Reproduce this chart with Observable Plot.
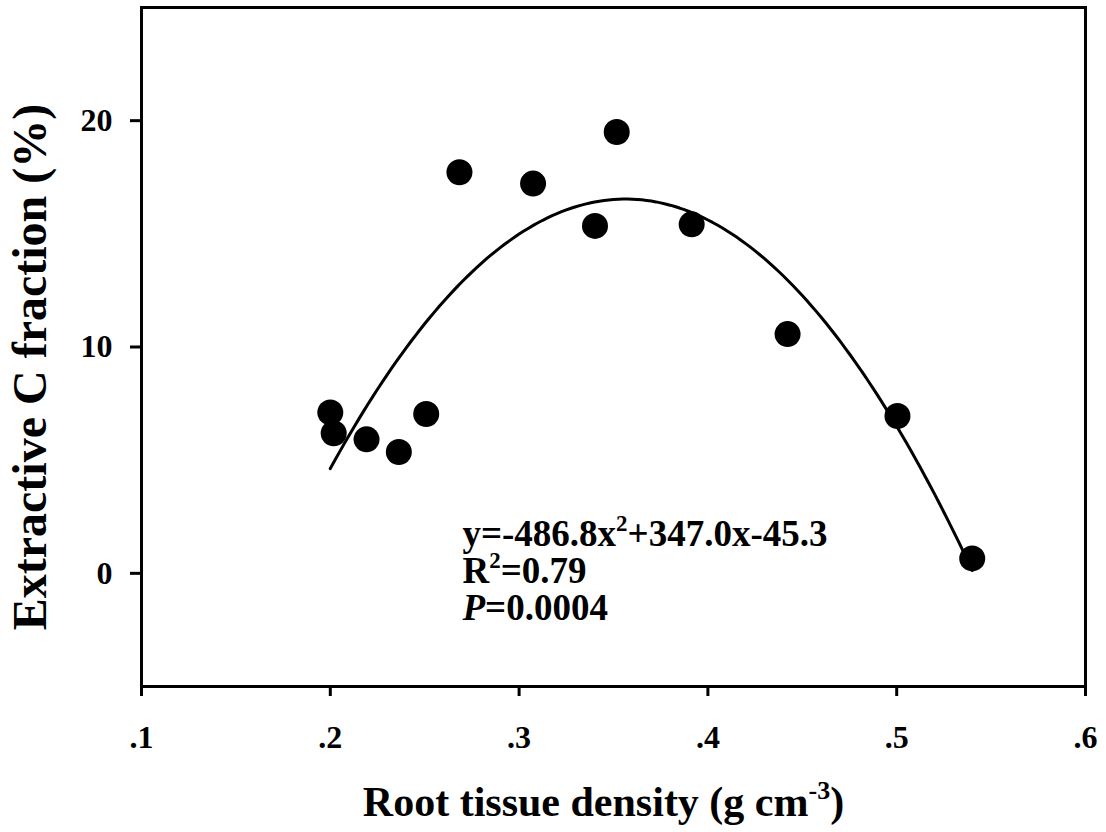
<!DOCTYPE html>
<html>
<head>
<meta charset="utf-8">
<script src="https://cdn.jsdelivr.net/npm/d3@7"></script>
<script src="https://cdn.jsdelivr.net/npm/@observablehq/plot@0.6"></script>
<style>
  html, body { margin: 0; padding: 0; background: #fff; }
</style>
</head>
<body>
<div id="chart"></div>
<script>
// ---- data ----
const rootTissueDensity = [0.2000, 0.2018, 0.2192, 0.2363, 0.2508, 0.2684, 0.3074, 0.3402, 0.3517, 0.3914, 0.4422, 0.5004, 0.5400];
const extractiveC      = [7.11, 6.19, 5.92, 5.36, 7.04, 17.72, 17.22, 15.35, 19.50, 15.42, 10.57, 6.95, 0.66];

// quadratic fit printed on the chart: y = a x^2 + b x + c
const fitCoefficients = [-486.8, 347.0, -45.3];
const fitRange = [0.2, 0.54];

const xTicks = [0.1, 0.2, 0.3, 0.4, 0.5, 0.6];
const xTickLabels = [".1", ".2", ".3", ".4", ".5", ".6"];
const yTicks = [0, 10, 20];
const yTickLabels = ["0", "10", "20"];

const annotationLines = ["y=-486.8x^2^+347.0x-45.3", "R^2^=0.79", "*P*=0.0004"];
const annotationX = 0.27;
const annotationY = [1.2, -0.43, -2.06];

const xTitle = "Root tissue density (g cm^-3^)";
const yTitle = "Extractive C fraction (%)";

// ---- build tables ----
const points = rootTissueDensity.map((x, i) => ({x, y: extractiveC[i]}));
const [a, b, c] = fitCoefficients;
const fitCurve = d3.range(fitRange[0], fitRange[1] + 1e-9, 0.0025).map(x => ({x, y: a * x * x + b * x + c}));
const annotations = annotationLines.map((t, i) => ({t, x: annotationX, y: annotationY[i]}));

const svg = Plot.plot({
  width: 1106,
  height: 832,
  marginLeft: 141,
  marginRight: 21,
  marginTop: 7,
  marginBottom: 146,
  style: {
    fontFamily: "'Liberation Serif', 'Times New Roman', serif",
    fontWeight: "bold",
    color: "black",
    background: "white"
  },
  x: {domain: [0.1, 0.6], label: null},
  y: {domain: [-5, 25], label: null},
  marks: [
    Plot.axisX({ticks: xTicks, tickFormat: (d, i) => xTickLabels[xTicks.indexOf(d)], tickSize: 10, tickPadding: 29, strokeWidth: 3, fontSize: 32, label: null}),
    Plot.axisY({ticks: yTicks, tickFormat: d => yTickLabels[yTicks.indexOf(d)], tickSize: 11, tickPadding: 18, strokeWidth: 3, fontSize: 32, label: null}),
    Plot.line(fitCurve, {x: "x", y: "y", stroke: "black", strokeWidth: 3}),
    Plot.dot(points, {x: "x", y: "y", r: 13, fill: "black", stroke: "none"}),
    Plot.text(annotations, {x: "x", y: "y", text: "t", textAnchor: "start", lineAnchor: "bottom", fontSize: 37, fill: "black"}),
    Plot.text([xTitle], {frameAnchor: "bottom", lineAnchor: "bottom", textAnchor: "middle", dx: -10, dy: 129, fontSize: 42, fill: "black"}),
    Plot.text([yTitle], {frameAnchor: "left", rotate: -90, lineAnchor: "bottom", textAnchor: "middle", dx: -96, dy: 20, fontSize: 48, fill: "black"}),
    Plot.frame({stroke: "black", strokeWidth: 3})
  ]
});

document.getElementById("chart").appendChild(svg);

// rich text: ^sup^ and *italic*
const NS = "http://www.w3.org/2000/svg";
d3.select(svg).selectAll("text").each(function () {
  const t = this.textContent;
  if (!/[\^*]/.test(t)) return;
  const fs = parseFloat(getComputedStyle(this).fontSize);
  const parts = t.split(/(\^[^^]*\^|\*[^*]*\*)/).filter(s => s.length);
  while (this.firstChild) this.removeChild(this.firstChild);
  let raised = false;
  for (const p of parts) {
    const ts = document.createElementNS(NS, "tspan");
    if (p.startsWith("^")) {
      ts.textContent = p.slice(1, -1);
      ts.setAttribute("font-size", (0.62 * fs) + "px");
      ts.setAttribute("dy", (-0.4 * fs) + "px");
      raised = true;
    } else {
      if (p.startsWith("*")) {
        ts.textContent = p.slice(1, -1);
        ts.setAttribute("font-style", "italic");
      } else {
        ts.textContent = p;
      }
      if (raised) { ts.setAttribute("dy", (0.4 * fs) + "px"); raised = false; }
    }
    this.appendChild(ts);
  }
});
</script>
</body>
</html>
